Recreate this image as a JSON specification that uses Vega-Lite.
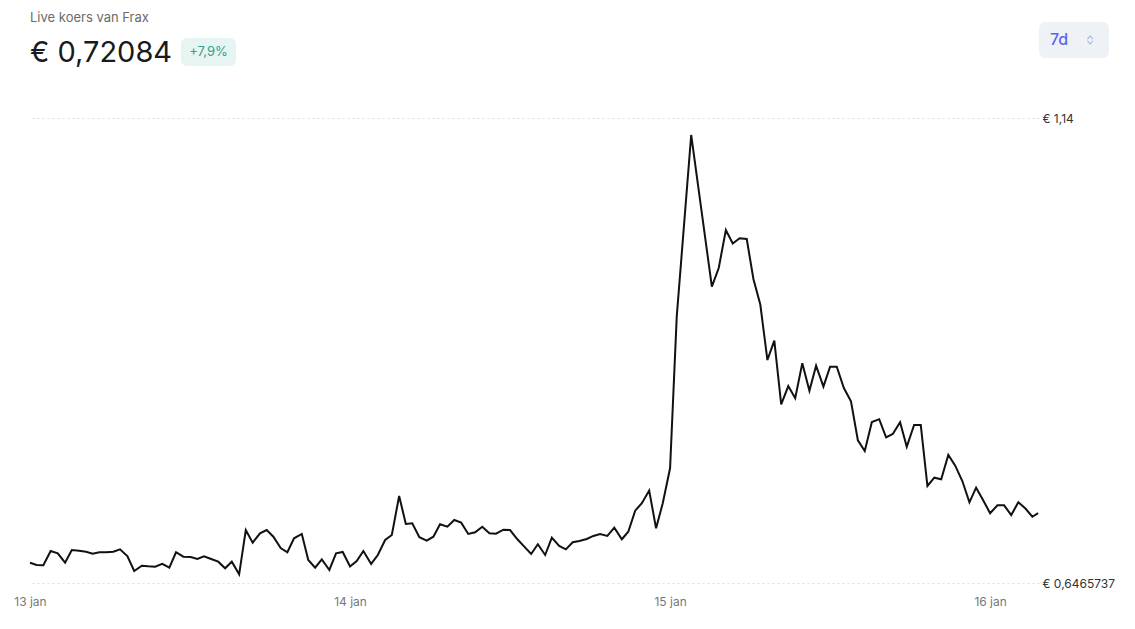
{
  "$schema": "https://vega.github.io/schema/vega-lite/v6.json",
  "width": 1009,
  "height": 465,
  "autosize": {"type": "none"},
  "padding": {"left": 30, "top": 118, "right": 96, "bottom": 46},
  "background": "#ffffff",
  "config": {
    "view": {"stroke": null},
    "font": "Inter"
  },
  "datasets": {
    "kop": [{"label": "Live koers van Frax"}],
    "prijs": [{"label": "€ 0,72084"}],
    "badge": [{"label": "+7,9%"}],
    "knop": [{"label": "7d"}]
  },
  "data": {
    "values": [
      {"tijd": "2025-01-13T00:00", "koers": 0.6681},
      {"tijd": "2025-01-13T00:30", "koers": 0.6657},
      {"tijd": "2025-01-13T01:00", "koers": 0.6654},
      {"tijd": "2025-01-13T01:33", "koers": 0.6805},
      {"tijd": "2025-01-13T02:05", "koers": 0.6781},
      {"tijd": "2025-01-13T02:38", "koers": 0.6681},
      {"tijd": "2025-01-13T03:08", "koers": 0.6816},
      {"tijd": "2025-01-13T03:41", "koers": 0.6809},
      {"tijd": "2025-01-13T04:12", "koers": 0.6798},
      {"tijd": "2025-01-13T04:42", "koers": 0.6777},
      {"tijd": "2025-01-13T05:12", "koers": 0.6792},
      {"tijd": "2025-01-13T05:42", "koers": 0.6792},
      {"tijd": "2025-01-13T06:15", "koers": 0.6798},
      {"tijd": "2025-01-13T06:45", "koers": 0.6823},
      {"tijd": "2025-01-13T07:18", "koers": 0.6752},
      {"tijd": "2025-01-13T07:49", "koers": 0.6593},
      {"tijd": "2025-01-13T08:23", "koers": 0.6649},
      {"tijd": "2025-01-13T08:52", "koers": 0.6643},
      {"tijd": "2025-01-13T09:23", "koers": 0.6639},
      {"tijd": "2025-01-13T09:55", "koers": 0.6668},
      {"tijd": "2025-01-13T10:27", "koers": 0.6628},
      {"tijd": "2025-01-13T10:57", "koers": 0.6792},
      {"tijd": "2025-01-13T11:30", "koers": 0.6745},
      {"tijd": "2025-01-13T12:03", "koers": 0.6742},
      {"tijd": "2025-01-13T12:33", "koers": 0.6721},
      {"tijd": "2025-01-13T13:03", "koers": 0.6749},
      {"tijd": "2025-01-13T13:35", "koers": 0.6721},
      {"tijd": "2025-01-13T14:07", "koers": 0.6692},
      {"tijd": "2025-01-13T14:38", "koers": 0.6622},
      {"tijd": "2025-01-13T15:08", "koers": 0.6692},
      {"tijd": "2025-01-13T15:41", "koers": 0.6558},
      {"tijd": "2025-01-13T16:11", "koers": 0.7028},
      {"tijd": "2025-01-13T16:42", "koers": 0.6894},
      {"tijd": "2025-01-13T17:15", "koers": 0.6993},
      {"tijd": "2025-01-13T17:45", "koers": 0.7028},
      {"tijd": "2025-01-13T18:15", "koers": 0.6957},
      {"tijd": "2025-01-13T18:48", "koers": 0.6837},
      {"tijd": "2025-01-13T19:18", "koers": 0.6792},
      {"tijd": "2025-01-13T19:48", "koers": 0.6940},
      {"tijd": "2025-01-13T20:23", "koers": 0.6986},
      {"tijd": "2025-01-13T20:52", "koers": 0.6710},
      {"tijd": "2025-01-13T21:23", "koers": 0.6628},
      {"tijd": "2025-01-13T21:53", "koers": 0.6717},
      {"tijd": "2025-01-13T22:27", "koers": 0.6604},
      {"tijd": "2025-01-13T22:57", "koers": 0.6781},
      {"tijd": "2025-01-13T23:27", "koers": 0.6795},
      {"tijd": "2025-01-14T00:00", "koers": 0.6641},
      {"tijd": "2025-01-14T00:30", "koers": 0.6699},
      {"tijd": "2025-01-14T01:00", "koers": 0.6805},
      {"tijd": "2025-01-14T01:35", "koers": 0.6668},
      {"tijd": "2025-01-14T02:05", "koers": 0.6763},
      {"tijd": "2025-01-14T02:38", "koers": 0.6922},
      {"tijd": "2025-01-14T03:08", "koers": 0.6975},
      {"tijd": "2025-01-14T03:41", "koers": 0.7389},
      {"tijd": "2025-01-14T04:11", "koers": 0.7092},
      {"tijd": "2025-01-14T04:40", "koers": 0.7099},
      {"tijd": "2025-01-14T05:12", "koers": 0.6951},
      {"tijd": "2025-01-14T05:45", "koers": 0.6915},
      {"tijd": "2025-01-14T06:15", "koers": 0.6957},
      {"tijd": "2025-01-14T06:45", "koers": 0.7089},
      {"tijd": "2025-01-14T07:18", "koers": 0.7063},
      {"tijd": "2025-01-14T07:49", "koers": 0.7134},
      {"tijd": "2025-01-14T08:20", "koers": 0.7106},
      {"tijd": "2025-01-14T08:52", "koers": 0.6986},
      {"tijd": "2025-01-14T09:23", "koers": 0.7004},
      {"tijd": "2025-01-14T09:55", "koers": 0.7063},
      {"tijd": "2025-01-14T10:27", "koers": 0.6993},
      {"tijd": "2025-01-14T10:57", "koers": 0.6989},
      {"tijd": "2025-01-14T11:30", "koers": 0.7031},
      {"tijd": "2025-01-14T12:00", "koers": 0.7028},
      {"tijd": "2025-01-14T12:33", "koers": 0.6930},
      {"tijd": "2025-01-14T13:04", "koers": 0.6851},
      {"tijd": "2025-01-14T13:35", "koers": 0.6774},
      {"tijd": "2025-01-14T14:05", "koers": 0.6877},
      {"tijd": "2025-01-14T14:38", "koers": 0.6763},
      {"tijd": "2025-01-14T15:08", "koers": 0.6947},
      {"tijd": "2025-01-14T15:41", "koers": 0.6859},
      {"tijd": "2025-01-14T16:11", "koers": 0.6823},
      {"tijd": "2025-01-14T16:42", "koers": 0.6898},
      {"tijd": "2025-01-14T17:12", "koers": 0.6912},
      {"tijd": "2025-01-14T17:45", "koers": 0.6933},
      {"tijd": "2025-01-14T18:15", "koers": 0.6965},
      {"tijd": "2025-01-14T18:45", "koers": 0.6986},
      {"tijd": "2025-01-14T19:18", "koers": 0.6965},
      {"tijd": "2025-01-14T19:49", "koers": 0.7053},
      {"tijd": "2025-01-14T20:23", "koers": 0.6930},
      {"tijd": "2025-01-14T20:52", "koers": 0.7010},
      {"tijd": "2025-01-14T21:23", "koers": 0.7233},
      {"tijd": "2025-01-14T21:53", "koers": 0.7312},
      {"tijd": "2025-01-14T22:26", "koers": 0.7447},
      {"tijd": "2025-01-14T22:57", "koers": 0.7046},
      {"tijd": "2025-01-14T23:27", "koers": 0.7312},
      {"tijd": "2025-01-15T00:00", "koers": 0.7683},
      {"tijd": "2025-01-15T00:30", "koers": 0.9292},
      {"tijd": "2025-01-15T01:35", "koers": 1.1220},
      {"tijd": "2025-01-15T03:08", "koers": 0.9610},
      {"tijd": "2025-01-15T03:39", "koers": 0.9808},
      {"tijd": "2025-01-15T04:11", "koers": 1.0212},
      {"tijd": "2025-01-15T04:42", "koers": 1.0068},
      {"tijd": "2025-01-15T05:13", "koers": 1.0124},
      {"tijd": "2025-01-15T05:45", "koers": 1.0116},
      {"tijd": "2025-01-15T06:15", "koers": 0.9692},
      {"tijd": "2025-01-15T06:46", "koers": 0.9421},
      {"tijd": "2025-01-15T07:18", "koers": 0.8832},
      {"tijd": "2025-01-15T07:49", "koers": 0.9037},
      {"tijd": "2025-01-15T08:20", "koers": 0.8362},
      {"tijd": "2025-01-15T08:52", "koers": 0.8556},
      {"tijd": "2025-01-15T09:23", "koers": 0.8426},
      {"tijd": "2025-01-15T09:55", "koers": 0.8797},
      {"tijd": "2025-01-15T10:27", "koers": 0.8506},
      {"tijd": "2025-01-15T10:57", "koers": 0.8772},
      {"tijd": "2025-01-15T11:30", "koers": 0.8549},
      {"tijd": "2025-01-15T12:00", "koers": 0.8761},
      {"tijd": "2025-01-15T12:30", "koers": 0.8761},
      {"tijd": "2025-01-15T13:02", "koers": 0.8535},
      {"tijd": "2025-01-15T13:34", "koers": 0.8394},
      {"tijd": "2025-01-15T14:05", "koers": 0.7980},
      {"tijd": "2025-01-15T14:36", "koers": 0.7867},
      {"tijd": "2025-01-15T15:08", "koers": 0.8174},
      {"tijd": "2025-01-15T15:41", "koers": 0.8204},
      {"tijd": "2025-01-15T16:12", "koers": 0.8012},
      {"tijd": "2025-01-15T16:42", "koers": 0.8047},
      {"tijd": "2025-01-15T17:15", "koers": 0.8171},
      {"tijd": "2025-01-15T17:45", "koers": 0.7912},
      {"tijd": "2025-01-15T18:18", "koers": 0.8142},
      {"tijd": "2025-01-15T18:48", "koers": 0.8142},
      {"tijd": "2025-01-15T19:18", "koers": 0.7495},
      {"tijd": "2025-01-15T19:49", "koers": 0.7583},
      {"tijd": "2025-01-15T20:20", "koers": 0.7566},
      {"tijd": "2025-01-15T20:52", "koers": 0.7824},
      {"tijd": "2025-01-15T21:23", "koers": 0.7711},
      {"tijd": "2025-01-15T21:55", "koers": 0.7548},
      {"tijd": "2025-01-15T22:27", "koers": 0.7322},
      {"tijd": "2025-01-15T22:57", "koers": 0.7477},
      {"tijd": "2025-01-15T23:30", "koers": 0.7339},
      {"tijd": "2025-01-16T00:00", "koers": 0.7206},
      {"tijd": "2025-01-16T00:33", "koers": 0.7290},
      {"tijd": "2025-01-16T01:03", "koers": 0.7290},
      {"tijd": "2025-01-16T01:35", "koers": 0.7187},
      {"tijd": "2025-01-16T02:07", "koers": 0.7322},
      {"tijd": "2025-01-16T02:38", "koers": 0.7259},
      {"tijd": "2025-01-16T03:10", "koers": 0.7169},
      {"tijd": "2025-01-16T03:36", "koers": 0.7208}
    ]
  },
  "layer": [
    {
      "mark": {"type": "line", "color": "#111111", "strokeWidth": 2, "strokeJoin": "miter", "clip": false},
      "encoding": {
        "x": {
          "field": "tijd",
          "type": "temporal",
          "title": null,
          "scale": {
            "domain": [
              {"year": 2025, "month": 1, "date": 13, "hours": 0, "minutes": 0},
              {"year": 2025, "month": 1, "date": 16, "hours": 3, "minutes": 40}
            ]
          },
          "axis": {
            "values": [
              {"year": 2025, "month": 1, "date": 13},
              {"year": 2025, "month": 1, "date": 14},
              {"year": 2025, "month": 1, "date": 15},
              {"year": 2025, "month": 1, "date": 16}
            ],
            "labelExpr": "timeFormat(datum.value, '%-d') + ' jan'",
            "domain": false,
            "ticks": false,
            "tickSize": 0,
            "grid": false,
            "labelPadding": 13,
            "labelFont": "Inter",
            "labelFontSize": 12,
            "labelColor": "#777777",
            "labelAlign": "center",
            "labelFlush": false
          }
        },
        "y": {
          "field": "koers",
          "type": "quantitative",
          "title": null,
          "scale": {"domain": [0.6465737, 1.14], "zero": false, "nice": false},
          "axis": {
            "orient": "right",
            "values": [0.6465737, 1.14],
            "labelExpr": "datum.value > 1 ? '€ 1,14' : '€ 0,6465737'",
            "domain": false,
            "ticks": false,
            "tickSize": 0,
            "labelPadding": 3,
            "labelFont": "Inter",
            "labelFontSize": 12,
            "labelColor": "#333333",
            "labelBaseline": "middle",
            "grid": true,
            "gridColor": "#dcdcdc",
            "gridDash": [2, 3],
            "gridWidth": 1
          }
        }
      }
    },
    {
      "data": {"name": "kop"},
      "mark": {"type": "text", "color": "#6b6b6b", "fontSize": 13, "font": "Inter", "align": "left", "baseline": "middle", "clip": false},
      "encoding": {
        "text": {"field": "label", "type": "nominal"},
        "x": {"datum": {"year": 2025, "month": 1, "date": 13, "hours": 0, "minutes": 0}, "type": "temporal"},
        "y": {"datum": 1.2461, "type": "quantitative"}
      }
    },
    {
      "data": {"name": "prijs"},
      "mark": {"type": "text", "color": "#1a1a1a", "fontSize": 29, "font": "Inter", "align": "left", "baseline": "alphabetic", "clip": false},
      "encoding": {
        "text": {"field": "label", "type": "nominal"},
        "x": {"datum": {"year": 2025, "month": 1, "date": 13, "hours": 0, "minutes": 0}, "type": "temporal"},
        "y": {"datum": 1.1994, "type": "quantitative"}
      }
    },
    {
      "data": {"name": "badge"},
      "mark": {"type": "rect", "color": "#e7f5f2", "cornerRadius": 6, "clip": false},
      "encoding": {
        "x": {"datum": {"year": 2025, "month": 1, "date": 13, "hours": 11, "minutes": 19}, "type": "temporal"},
        "x2": {"datum": {"year": 2025, "month": 1, "date": 13, "hours": 15, "minutes": 27}},
        "y": {"datum": 1.2249, "type": "quantitative"},
        "y2": {"datum": 1.1952}
      }
    },
    {
      "data": {"name": "badge"},
      "mark": {"type": "text", "color": "#35a08e", "fontSize": 13, "font": "Inter", "align": "center", "baseline": "middle", "clip": false},
      "encoding": {
        "text": {"field": "label", "type": "nominal"},
        "x": {"datum": {"year": 2025, "month": 1, "date": 13, "hours": 13, "minutes": 23}, "type": "temporal"},
        "y": {"datum": 1.2100, "type": "quantitative"}
      }
    },
    {
      "data": {"name": "knop"},
      "mark": {"type": "rect", "color": "#eef1f5", "cornerRadius": 6, "clip": false},
      "encoding": {
        "x": {"datum": {"year": 2025, "month": 1, "date": 16, "hours": 3, "minutes": 40}, "type": "temporal"},
        "x2": {"datum": {"year": 2025, "month": 1, "date": 16, "hours": 8, "minutes": 55}},
        "y": {"datum": 1.2419, "type": "quantitative"},
        "y2": {"datum": 1.2037}
      }
    },
    {
      "data": {"name": "knop"},
      "mark": {"type": "text", "color": "#5a66ee", "fontSize": 16, "font": "Inter", "fontWeight": 500, "align": "center", "baseline": "middle", "clip": false},
      "encoding": {
        "text": {"field": "label", "type": "nominal"},
        "x": {"datum": {"year": 2025, "month": 1, "date": 16, "hours": 5, "minutes": 10}, "type": "temporal"},
        "y": {"datum": 1.2228, "type": "quantitative"}
      }
    },
    {
      "data": {"name": "knop"},
      "mark": {"type": "point", "shape": "M-0.7,-0.25L0,-1L0.7,-0.25M-0.7,0.25L0,1L0.7,0.25", "filled": false, "size": 60, "strokeWidth": 1.2, "color": "#8ea6d8", "clip": false},
      "encoding": {
        "x": {"datum": {"year": 2025, "month": 1, "date": 16, "hours": 7, "minutes": 30}, "type": "temporal"},
        "y": {"datum": 1.2228, "type": "quantitative"}
      }
    }
  ]
}
